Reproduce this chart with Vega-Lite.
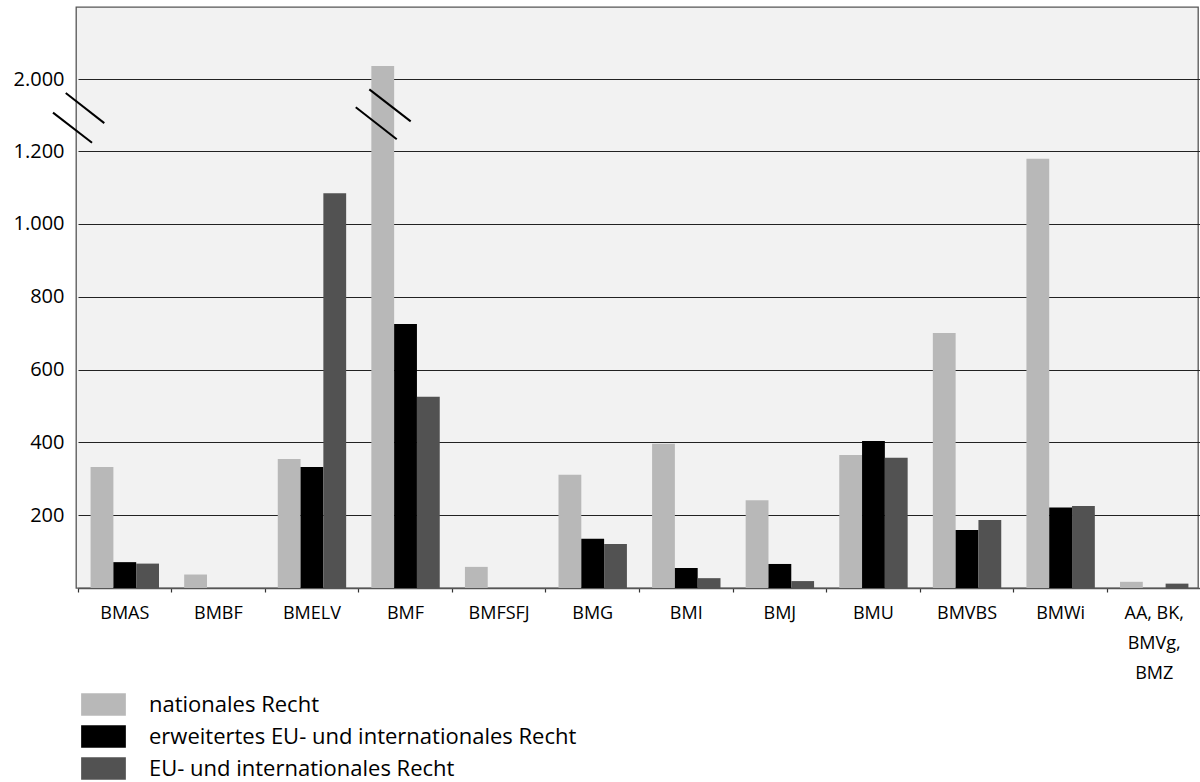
{
  "$schema": "https://vega.github.io/schema/vega-lite/v6.json",
  "width": 1122,
  "height": 581,
  "autosize": "none",
  "padding": {"left": 76, "top": 7, "right": 2, "bottom": 194},
  "background": "#ffffff",
  "config": {
    "font": "Open Sans",
    "view": {"fill": "#f2f2f2", "stroke": "#555555", "strokeWidth": 1.3}
  },
  "datasets": {
    "bars": [
      {"Ressort": "BMAS", "Art": "nationales Recht", "Anzahl": 332},
      {"Ressort": "BMAS", "Art": "erweitertes EU- und internationales Recht", "Anzahl": 71},
      {"Ressort": "BMAS", "Art": "EU- und internationales Recht", "Anzahl": 67},
      {"Ressort": "BMBF", "Art": "nationales Recht", "Anzahl": 37},
      {"Ressort": "BMBF", "Art": "erweitertes EU- und internationales Recht", "Anzahl": 0},
      {"Ressort": "BMBF", "Art": "EU- und internationales Recht", "Anzahl": 0},
      {"Ressort": "BMELV", "Art": "nationales Recht", "Anzahl": 354},
      {"Ressort": "BMELV", "Art": "erweitertes EU- und internationales Recht", "Anzahl": 332},
      {"Ressort": "BMELV", "Art": "EU- und internationales Recht", "Anzahl": 1084},
      {"Ressort": "BMF", "Art": "nationales Recht", "Anzahl": 2036},
      {"Ressort": "BMF", "Art": "erweitertes EU- und internationales Recht", "Anzahl": 725},
      {"Ressort": "BMF", "Art": "EU- und internationales Recht", "Anzahl": 525},
      {"Ressort": "BMFSFJ", "Art": "nationales Recht", "Anzahl": 58},
      {"Ressort": "BMFSFJ", "Art": "erweitertes EU- und internationales Recht", "Anzahl": 0},
      {"Ressort": "BMFSFJ", "Art": "EU- und internationales Recht", "Anzahl": 0},
      {"Ressort": "BMG", "Art": "nationales Recht", "Anzahl": 311},
      {"Ressort": "BMG", "Art": "erweitertes EU- und internationales Recht", "Anzahl": 135},
      {"Ressort": "BMG", "Art": "EU- und internationales Recht", "Anzahl": 121},
      {"Ressort": "BMI", "Art": "nationales Recht", "Anzahl": 396},
      {"Ressort": "BMI", "Art": "erweitertes EU- und internationales Recht", "Anzahl": 55},
      {"Ressort": "BMI", "Art": "EU- und internationales Recht", "Anzahl": 27},
      {"Ressort": "BMJ", "Art": "nationales Recht", "Anzahl": 241},
      {"Ressort": "BMJ", "Art": "erweitertes EU- und internationales Recht", "Anzahl": 66},
      {"Ressort": "BMJ", "Art": "EU- und internationales Recht", "Anzahl": 19},
      {"Ressort": "BMU", "Art": "nationales Recht", "Anzahl": 365},
      {"Ressort": "BMU", "Art": "erweitertes EU- und internationales Recht", "Anzahl": 404},
      {"Ressort": "BMU", "Art": "EU- und internationales Recht", "Anzahl": 358},
      {"Ressort": "BMVBS", "Art": "nationales Recht", "Anzahl": 700},
      {"Ressort": "BMVBS", "Art": "erweitertes EU- und internationales Recht", "Anzahl": 159},
      {"Ressort": "BMVBS", "Art": "EU- und internationales Recht", "Anzahl": 187},
      {"Ressort": "BMWi", "Art": "nationales Recht", "Anzahl": 1179},
      {"Ressort": "BMWi", "Art": "erweitertes EU- und internationales Recht", "Anzahl": 221},
      {"Ressort": "BMWi", "Art": "EU- und internationales Recht", "Anzahl": 225},
      {"Ressort": "AA, BK, BMVg, BMZ", "Art": "nationales Recht", "Anzahl": 17},
      {"Ressort": "AA, BK, BMVg, BMZ", "Art": "erweitertes EU- und internationales Recht", "Anzahl": 0},
      {"Ressort": "AA, BK, BMVg, BMZ", "Art": "EU- und internationales Recht", "Anzahl": 12}
    ],
    "breaks": [
      {"x_von": -0.131, "x_bis": 0.281, "Anzahl": 1844, "Anzahl_bis": 1510},
      {"x_von": -0.267, "x_bis": 0.150, "Anzahl": 1626, "Anzahl_bis": 1292},
      {"x_von": 3.113, "x_bis": 3.555, "Anzahl": 1885, "Anzahl_bis": 1529},
      {"x_von": 2.968, "x_bis": 3.406, "Anzahl": 1686, "Anzahl_bis": 1330}
    ]
  },
  "layer": [
    {
      "data": {"name": "bars"},
      "mark": {"type": "bar"},
      "encoding": {
        "x": {
          "field": "Ressort",
          "type": "nominal",
          "sort": ["BMAS", "BMBF", "BMELV", "BMF", "BMFSFJ", "BMG", "BMI", "BMJ", "BMU", "BMVBS", "BMWi", "AA, BK, BMVg, BMZ"],
          "scale": {"range": [2, 1125], "paddingInner": 0, "paddingOuter": 0},
          "axis": {
            "title": null,
            "bandPosition": 0,
            "tickSize": 4,
            "tickColor": "#333333",
            "tickWidth": 1.2,
            "domainColor": "#555555",
            "domainWidth": 1.3,
            "labelFont": "Open Sans",
            "labelFontSize": 18,
            "labelColor": "#000000",
            "labelPadding": 12,
            "labelLineHeight": 30,
            "labelAngle": 0,
            "labelExpr": "datum.label == 'AA, BK, BMVg, BMZ' ? ['AA, BK,', 'BMVg,', 'BMZ'] : datum.label"
          }
        },
        "xOffset": {
          "field": "Art",
          "type": "nominal",
          "scale": {
            "domain": ["nationales Recht", "erweitertes EU- und internationales Recht", "EU- und internationales Recht"],
            "paddingInner": 0,
            "paddingOuter": 0.552
          }
        },
        "y": {
          "field": "Anzahl",
          "type": "quantitative",
          "scale": {"domain": [0, 1200, 2000, 2200], "range": [581, 144, 72, 0], "nice": false, "zero": false},
          "axis": {
            "title": null,
            "values": [200, 400, 600, 800, 1000, 1200, 2000],
            "labelExpr": "replace(format(datum.value, ','), ',', '.')",
            "grid": true,
            "gridColor": "#222222",
            "gridWidth": 1.2,
            "ticks": false,
            "domain": false,
            "labelFont": "Open Sans",
            "labelFontSize": 20,
            "labelColor": "#000000",
            "labelPadding": 12
          }
        },
        "color": {
          "field": "Art",
          "type": "nominal",
          "scale": {
            "domain": ["nationales Recht", "erweitertes EU- und internationales Recht", "EU- und internationales Recht"],
            "range": ["#b8b8b8", "#000000", "#525252"]
          },
          "legend": {
            "title": null,
            "orient": "none",
            "legendX": 16,
            "legendY": 686,
            "direction": "vertical",
            "padding": 0,
            "symbolType": "M-2,-1H2V1H-2Z",
            "symbolSize": 500,
            "symbolStrokeWidth": 0,
            "symbolOpacity": 1,
            "labelFont": "Open Sans",
            "labelFontSize": 22,
            "labelColor": "#000000",
            "labelOffset": 34,
            "labelLimit": 800,
            "rowPadding": 9
          }
        }
      }
    },
    {
      "data": {"name": "breaks"},
      "mark": {"type": "rule", "color": "#000000", "strokeWidth": 2, "clip": false},
      "encoding": {
        "x": {
          "field": "x_von",
          "type": "quantitative",
          "scale": {"domain": [0, 12], "range": [2, 1125], "nice": false, "zero": false},
          "axis": null
        },
        "x2": {"field": "x_bis"},
        "y": {
          "field": "Anzahl",
          "type": "quantitative",
          "scale": {"domain": [0, 1200, 2000, 2200], "range": [581, 144, 72, 0], "nice": false, "zero": false}
        },
        "y2": {"field": "Anzahl_bis"}
      }
    }
  ],
  "resolve": {"scale": {"x": "independent"}}
}
